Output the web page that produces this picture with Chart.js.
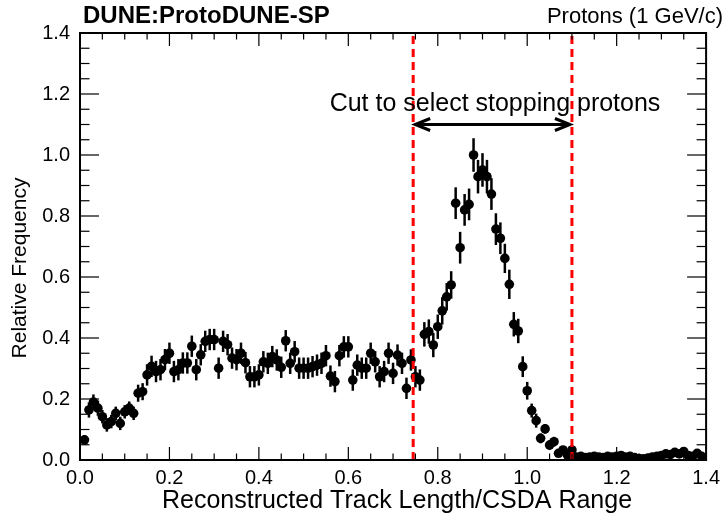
<!DOCTYPE html>
<html>
<head>
<meta charset="utf-8">
<script src="https://cdn.jsdelivr.net/npm/chart.js@4.4.1/dist/chart.umd.min.js"></script>
<style>
  html, body { margin: 0; padding: 0; background: #fff; }
  #wrap { width: 726px; height: 520px; }
</style>
</head>
<body>
<div id="wrap"><canvas id="plot" width="726" height="520"></canvas></div>
<script>
// track length / CSDA range, bins of 0.01 starting at 0.01
const binWidth = 0.01;
const firstBin = 1;

const frequency = [
  0.066, 0.164, 0.190, 0.170, 0.142, 0.115, 0.126, 0.153, 0.120, 0.158,
  0.170, 0.153, 0.219, 0.224, 0.279, 0.307, 0.290, 0.296, 0.329, 0.350,
  0.290, 0.296, 0.318, 0.318, 0.373, 0.296, 0.345, 0.389, 0.395, 0.395,
  0.301, 0.389, 0.378, 0.334, 0.329, 0.350, 0.319, 0.273, 0.273, 0.279,
  0.322, 0.317, 0.339, 0.328, 0.304, 0.391, 0.317, 0.355, 0.301, 0.301,
  0.301, 0.306, 0.311, 0.317, 0.342, 0.275, 0.257, 0.342, 0.371, 0.371,
  0.262, 0.311, 0.301, 0.301, 0.350, 0.322, 0.273, 0.290, 0.350, 0.284,
  0.344, 0.317, 0.235, 0.328, 0.273, 0.262, 0.412, 0.421, 0.377, 0.437,
  0.489, 0.535, 0.574, 0.842, 0.696, 0.820, 0.838, 1.000, 0.929, 0.951,
  0.929, 0.872, 0.757, 0.727, 0.661, 0.576, 0.445, 0.423, 0.306, 0.227,
  0.162, 0.129, 0.071, 0.102, 0.049, 0.060, 0.022, 0.033, 0.016, 0.033,
  0.010, 0.012, 0.008, 0.010, 0.012, 0.010, 0.008, 0.012, 0.010, 0.012,
  0.015, 0.010, 0.012, 0.008, 0.005, 0.004, 0.006, 0.010, 0.012, 0.015,
  0.020, 0.018, 0.025, 0.020, 0.028, 0.015, 0.012, 0.022, 0.012
];

// statistical error on each bin
const uncertainty = [
  0.016, 0.025, 0.025, 0.025, 0.022, 0.022, 0.022, 0.022, 0.022, 0.022,
  0.022, 0.022, 0.028, 0.028, 0.035, 0.035, 0.035, 0.035, 0.035, 0.035,
  0.035, 0.035, 0.035, 0.035, 0.035, 0.035, 0.035, 0.035, 0.035, 0.035,
  0.035, 0.035, 0.035, 0.035, 0.035, 0.035, 0.035, 0.035, 0.035, 0.035,
  0.035, 0.035, 0.035, 0.035, 0.035, 0.035, 0.035, 0.035, 0.035, 0.035,
  0.035, 0.035, 0.035, 0.035, 0.035, 0.035, 0.035, 0.035, 0.035, 0.035,
  0.035, 0.035, 0.035, 0.035, 0.035, 0.035, 0.035, 0.035, 0.035, 0.035,
  0.035, 0.035, 0.035, 0.035, 0.035, 0.035, 0.040, 0.040, 0.040, 0.040,
  0.045, 0.045, 0.045, 0.052, 0.052, 0.052, 0.052, 0.055, 0.055, 0.055,
  0.055, 0.052, 0.052, 0.052, 0.048, 0.048, 0.040, 0.040, 0.034, 0.029,
  0.023, 0.023, 0.016, 0.016, 0.016, 0.016, 0.010, 0.010, 0.010, 0.010,
  0.007, 0.007, 0.007, 0.007, 0.007, 0.007, 0.007, 0.007, 0.007, 0.007,
  0.007, 0.007, 0.007, 0.007, 0.007, 0.007, 0.007, 0.007, 0.007, 0.007,
  0.007, 0.007, 0.007, 0.007, 0.007, 0.007, 0.007, 0.007, 0.007
];

const axisTicks = [0, 0.2, 0.4, 0.6, 0.8, 1.0, 1.2, 1.4];
const cutLow = 0.745;
const cutHigh = 1.10;
const arrowLevel = 1.10;

const points = frequency.map((v, k) => ({
  x: (firstBin + k) * binWidth,
  y: v,
  err: uncertainty[k]
}));

const FONT = "'Liberation Sans', Arial, Helvetica, sans-serif";

function seg(ctx, x1, y1, x2, y2) {
  ctx.beginPath();
  ctx.moveTo(x1, y1);
  ctx.lineTo(x2, y2);
  ctx.stroke();
}

const errorBars = {
  id: 'errorBars',
  beforeDatasetsDraw(chart) {
    const { ctx, scales: { x, y } } = chart;
    ctx.save();
    ctx.strokeStyle = '#000';
    ctx.lineWidth = 2.5;
    points.forEach(p => {
      const px = x.getPixelForValue(p.x);
      seg(ctx, px, y.getPixelForValue(p.y - p.err), px, y.getPixelForValue(p.y + p.err));
    });
    ctx.restore();
  }
};

const decorations = {
  id: 'decorations',
  afterDraw(chart) {
    const { ctx, chartArea: a, scales: { x, y } } = chart;
    ctx.save();

    // cut lines
    ctx.strokeStyle = '#ff0000';
    ctx.lineWidth = 3;
    ctx.setLineDash([8, 5]);
    [cutLow, cutHigh].forEach(c => {
      const px = x.getPixelForValue(c);
      seg(ctx, px, a.bottom, px, a.top);
    });
    ctx.setLineDash([]);

    // frame with inward ticks on every side
    ctx.strokeStyle = '#000';
    ctx.lineWidth = 2;
    ctx.strokeRect(a.left, a.top, a.right - a.left, a.bottom - a.top);
    ctx.lineWidth = 1.2;
    for (let k = 0; k <= 28; k++) {
      const v = k * 0.05;
      const major = k % 4 === 0;
      const px = x.getPixelForValue(v);
      const tx = major ? 13 : 6.5;
      seg(ctx, px, a.bottom, px, a.bottom - tx);
      seg(ctx, px, a.top, px, a.top + tx);
      const py = y.getPixelForValue(v);
      const ty = major ? 19 : 9.5;
      seg(ctx, a.left, py, a.left + ty, py);
      seg(ctx, a.right, py, a.right - ty, py);
    }

    // double arrow between the cuts
    const ay = y.getPixelForValue(arrowLevel);
    const x1 = x.getPixelForValue(cutLow) + 2;
    const x2 = x.getPixelForValue(cutHigh) - 2;
    ctx.lineWidth = 3;
    seg(ctx, x1, ay, x2, ay);
    ctx.beginPath();
    ctx.moveTo(x1 + 15, ay - 6); ctx.lineTo(x1, ay); ctx.lineTo(x1 + 15, ay + 6);
    ctx.moveTo(x2 - 15, ay - 6); ctx.lineTo(x2, ay); ctx.lineTo(x2 - 15, ay + 6);
    ctx.stroke();

    ctx.fillStyle = '#000';
    ctx.textBaseline = 'alphabetic';
    ctx.font = '25px ' + FONT;
    ctx.textAlign = 'center';
    ctx.fillText('Cut to select stopping protons', 495, 111);

    // header
    ctx.font = 'bold 24px ' + FONT;
    ctx.textAlign = 'left';
    ctx.fillText('DUNE:ProtoDUNE-SP', 83, 23);
    ctx.font = '22px ' + FONT;
    ctx.textAlign = 'right';
    ctx.fillText('Protons (1 GeV/c)', 723, 23);

    // axis titles
    ctx.textAlign = 'center';
    ctx.font = '25px ' + FONT;
    ctx.fillText('Reconstructed Track Length/CSDA Range', 397, 508);
    ctx.font = '21px ' + FONT;
    ctx.translate(26, 268);
    ctx.rotate(-Math.PI / 2);
    ctx.fillText('Relative Frequency', 0, 0);
    ctx.restore();
  }
};

new Chart(document.getElementById('plot'), {
  type: 'scatter',
  data: {
    datasets: [{
      data: points,
      pointRadius: 4.8,
      pointHoverRadius: 4.8,
      pointBackgroundColor: '#000',
      pointBorderColor: '#000',
      pointBorderWidth: 0,
      showLine: false
    }]
  },
  options: {
    responsive: false,
    animation: false,
    devicePixelRatio: 1,
    layout: { padding: { top: 33, right: 16, left: 0, bottom: 0 } },
    plugins: {
      legend: { display: false },
      tooltip: { enabled: false }
    },
    scales: {
      x: {
        type: 'linear',
        min: 0,
        max: 1.4,
        afterFit: s => { s.height = 60; },
        afterBuildTicks: s => { s.ticks = axisTicks.map(v => ({ value: v })); },
        grid: { display: false, drawTicks: false },
        border: { display: false },
        ticks: {
          padding: 6,
          color: '#000',
          font: { family: FONT, size: 20 },
          maxRotation: 0,
          callback: v => v.toFixed(1)
        }
      },
      y: {
        type: 'linear',
        min: 0,
        max: 1.4,
        afterFit: s => { s.width = 80; },
        afterBuildTicks: s => { s.ticks = axisTicks.map(v => ({ value: v })); },
        grid: { display: false, drawTicks: false },
        border: { display: false },
        ticks: {
          padding: 10,
          color: '#000',
          font: { family: FONT, size: 20 },
          callback: v => v.toFixed(1)
        }
      }
    }
  },
  plugins: [errorBars, decorations]
});
</script>
</body>
</html>
